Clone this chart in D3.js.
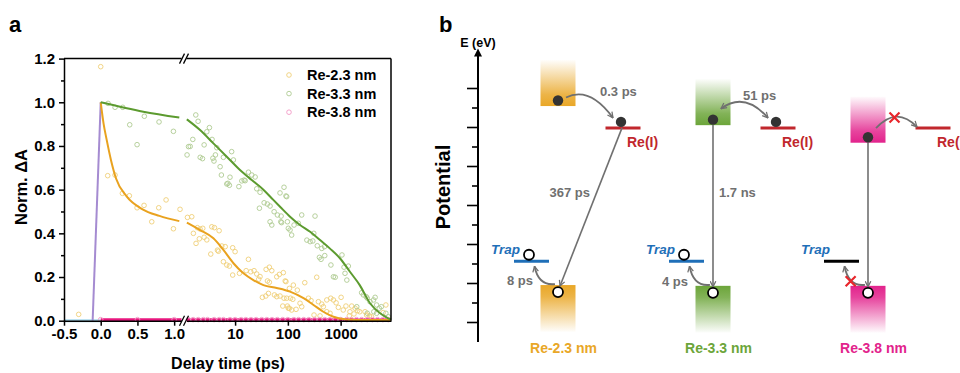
<!DOCTYPE html>
<html>
<head>
<meta charset="utf-8">
<script src="https://cdn.jsdelivr.net/npm/d3@7"></script>
<style>
body { margin: 0; background: #fff; }
svg { font-family: "Liberation Sans", Arial, sans-serif; font-weight: bold; }
.axis text { font-size: 15px; font-weight: bold; fill: #000; font-family: "Liberation Sans", Arial, sans-serif; }
.axis path, .axis line { stroke: #000; stroke-width: 1.5; }
</style>
</head>
<body>
<script>
// ---------- panel a data ----------
var seriesNames = ["Re-2.3 nm", "Re-3.3 nm", "Re-3.8 nm"];

var yTicks = [0, 0.2, 0.4, 0.6, 0.8, 1.0, 1.2];
var yMinor = [0.1, 0.3, 0.5, 0.7, 0.9, 1.1];
var xLinTicks = [-0.5, 0, 0.5, 1.0];
var xLogTicks = [10, 100, 1000];

// scatter, linear part (t in ps, norm dA)
var orangeLinPts = [[-0.3,0.029],[0,1.163],[0.095,0.664],[0.195,0.667],[0.295,0.583],[0.39,0.572],[0.495,0.517],[0.59,0.528],[0.695,0.453],[0.79,0.517],[0.89,0.553],[0.99,0.421],[1.08,0.51]];
var greenLinPts = [[0.10,0.995],[0.195,0.977],[0.30,0.977],[0.395,0.897],[0.495,0.806],[0.594,0.936],[0.794,0.91],[0.99,0.867]];
var pinkLinPts = [[0,0.005],[0.5,0.005],[1.0,0.005]];

// scatter, log part
var orangeLogPts = [[1.25,0.473],[1.51,0.476],[1.62,0.40],[1.93,0.426],[2.17,0.42],[2.44,0.423],[1.82,0.354],[2.1,0.375],[2.59,0.382],[2.91,0.37],[3.62,0.43],[4.06,0.426],[4.98,0.412],[3.46,0.305],[4.63,0.323],[4.83,0.318],[5.6,0.342],[6.5,0.339],[9.0,0.334],[10,0.316],[6.96,0.255],[7.8,0.25],[6.0,0.27],[9,0.209],[17.9,0.281],[12.1,0.217],[16.2,0.229],[19.8,0.224],[22.9,0.229],[25.7,0.214],[29.7,0.202],[28,0.19],[38.7,0.235],[44.6,0.245],[49.6,0.229],[41,0.182],[44.6,0.176],[61.5,0.201],[69,0.212],[32.9,0.107],[38.2,0.113],[42.8,0.125],[55.6,0.118],[61.5,0.11],[71,0.113],[84.5,0.103],[98,0.067],[107,0.057],[92,0.179],[82,0.22],[89,0.182],[107,0.148],[127,0.163],[151,0.14],[95,0.103],[112,0.103],[124,0.098],[80,0.067],[102,0.057],[118,0.049],[143,0.052],[170,0.08],[183,0.064],[209,0.174],[245,0.103],[275,0.092],[352,0.199],[379,0.087],[439,0.076],[470,0.064],[546,0.095],[650,0.103],[730,0.095],[820,0.082],[1020,0.107],[313,0.026],[407,0.022],[546,0.041],[630,0.034],[905,0.061],[1120,0.049],[1260,0.067],[1500,0.041],[1620,0.067],[1880,0.057],[2100,0.046],[2300,0.041],[1460,0.022],[1790,0.031],[2900,0.041],[3100,0.026],[3500,0.022],[3850,0.018],[6400,0.037],[7200,0.072]];
var greenLogPts = [[1.31,0.797],[1.23,0.759],[1.80,0.942],[1.99,0.913],[3.26,0.884],[2.91,0.865],[1.58,0.83],[1.41,0.798],[2.59,0.805],[2.18,0.748],[2.41,0.742],[3.66,0.83],[3.8,0.744],[3.98,0.731],[4.24,0.759],[4.5,0.792],[6.0,0.748],[5.2,0.705],[8.6,0.774],[9.3,0.736],[5.5,0.667],[8.0,0.657],[13.4,0.64],[14.8,0.644],[17.9,0.68],[20.7,0.667],[24,0.658],[7.3,0.629],[6.96,0.626],[7.8,0.62],[11.8,0.614],[15.5,0.641],[25.7,0.604],[29.7,0.588],[28.9,0.515],[35.5,0.54],[40.9,0.534],[46,0.525],[54.9,0.499],[63.4,0.484],[73.5,0.453],[46,0.453],[49.6,0.438],[71,0.585],[95,0.568],[98,0.453],[102,0.423],[84.5,0.611],[92,0.571],[74.5,0.479],[76,0.449],[110,0.415],[118,0.392],[131,0.438],[158,0.446],[183,0.484],[229,0.369],[264,0.362],[297,0.365],[327,0.479],[310,0.40],[361,0.343],[439,0.331],[494,0.339],[396,0.29],[425,0.281],[500,0.298],[654,0.255],[730,0.201],[790,0.199],[1060,0.301],[1160,0.245],[1400,0.25],[1210,0.217],[1310,0.186],[2500,0.128],[2700,0.118],[3050,0.11],[3200,0.103],[3600,0.087],[4200,0.095],[4500,0.107],[4800,0.072],[5400,0.057],[5900,0.064],[4250,0.041],[4800,0.034],[2020,0.064],[7200,0.034],[8000,0.018],[3200,0.034]];
var pinkLogPts = [[1.3,0.005],[1.6,0.005],[2,0.005],[2.5,0.005],[3,0.005],[4,0.005],[5,0.005],[6,0.005],[8,0.005],[10,0.005],[13,0.005],[16,0.005],[20,0.005],[25,0.005],[32,0.005],[40,0.005],[50,0.005],[63,0.005],[80,0.005],[100,0.005],[130,0.005],[160,0.005],[200,0.005],[250,0.005],[320,0.005],[400,0.005],[500,0.005],[630,0.005],[800,0.005],[1000,0.005],[1300,0.005],[1600,0.005],[2000,0.005],[2500,0.005],[3200,0.005],[4000,0.005],[5000,0.005],[6300,0.005],[8000,0.005]];

// fitted curves
var orangeFitLin = [[0,1.0],[0.04,0.9],[0.08,0.83],[0.14,0.735],[0.21,0.65],[0.35,0.57],[0.57,0.51],[0.8,0.48],[1.07,0.456]];
var orangeFitLog = [[1.22,0.449],[2.17,0.415],[3.88,0.377],[6.0,0.324],[9.3,0.263],[14.4,0.217],[22.2,0.186],[34.4,0.163],[61.5,0.15],[110,0.133],[198,0.103],[306,0.072],[470,0.041],[730,0.018],[1300,0.006],[3100,0.003],[9000,0.003]];
var greenFitLin = [[0,1.0],[0.58,0.957],[1.07,0.93]];
var greenFitLog = [[1.22,0.922],[2.17,0.873],[3.88,0.812],[6.96,0.751],[12.4,0.69],[20.7,0.644],[34.4,0.6],[53,0.553],[71,0.522],[110,0.476],[170,0.438],[264,0.407],[407,0.369],[630,0.33],[970,0.286],[1500,0.224],[2300,0.163],[3600,0.08],[5600,0.034],[8000,0.011],[9000,0.006]];
var pinkFitLin = [[0,0.004],[1.1,0.004]];
var pinkFitLog = [[1.2,0.004],[9000,0.004]];
var irfRise = [[-0.11,0],[0,1.0]];
var baseLine = [[-0.5,0.0],[0,0.0]];

// ---------- panel b data ----------
var groupNames = ["Re-2.3 nm", "Re-3.3 nm", "Re-3.8 nm"];
var groupColors = ["#E9A727", "#6CA53A", "#E2238C"];
var cbEdge = [5.55, 5.06, 4.61];     // conduction band edge (arb. potential units)
var vbEdge = [0.96, 0.94, 0.94];     // valence band edge
var reLevel = [4.99, 4.99, 4.99];    // Re(I) level
var trapLevel = [1.57, 1.57, 1.57];  // trap level
var transferTime = ["0.3 ps", "51 ps", ""];
var recombTime = ["367 ps", "1.7 ns", ""];
var trapTime = ["8 ps", "4 ps", ""];
var blocked = [false, false, true];
var eMajor = [0, 1, 2, 3, 4, 5, 6];
var eMinor = [0.5, 1.5, 2.5, 3.5, 4.5, 5.5];

var svg = d3.select("body").append("svg")
    .attr("width", 960)
    .attr("height", 373);

// ================= panel a =================
var xLin = d3.scaleLinear().domain([-0.5, 1.1]).range([64, 181.5]);
var xLog = d3.scaleLog().domain([1.2, 9000]).range([186.5, 391]);
var y = d3.scaleLinear().domain([0, 1.2]).range([320.7, 58.6]);

var gA = svg.append("g");

var lineLin = d3.line().x(function(d) { return xLin(d[0]); }).y(function(d) { return y(d[1]); }).curve(d3.curveMonotoneX);
var lineLog = d3.line().x(function(d) { return xLog(d[0]); }).y(function(d) { return y(d[1]); }).curve(d3.curveMonotoneX);
var straight = d3.line().x(function(d) { return xLin(d[0]); }).y(function(d) { return y(d[1]); });

// scatter points
function dots(data, sx, color) {
    gA.append("g").selectAll("circle")
        .data(data)
        .enter().append("circle")
        .attr("cx", function(d) { return sx(d[0]); })
        .attr("cy", function(d) { return y(d[1]); })
        .attr("r", 2.3)
        .attr("fill", "none")
        .attr("stroke", color)
        .attr("stroke-width", 0.9);
}
dots(orangeLinPts, xLin, "#EFCF78");
dots(orangeLogPts, xLog, "#EFCF78");
dots(greenLinPts, xLin, "#AFCB92");
dots(greenLogPts, xLog, "#AFCB92");

// fits
gA.append("path").attr("d", straight(baseLine)).attr("stroke", "#A9D8EC").attr("stroke-width", 3).attr("fill", "none");
gA.append("path").attr("d", straight(irfRise)).attr("stroke", "#A58BD1").attr("stroke-width", 2).attr("fill", "none");
gA.append("path").attr("d", straight(pinkFitLin)).attr("stroke", "#E8177F").attr("stroke-width", 3).attr("fill", "none");
gA.append("path").attr("d", lineLog(pinkFitLog)).attr("stroke", "#E8177F").attr("stroke-width", 3).attr("fill", "none");
dots(pinkLinPts, xLin, "#F39AC6");
dots(pinkLogPts, xLog, "#F39AC6");
[[orangeFitLin, orangeFitLog, "#E9A21F"], [greenFitLin, greenFitLog, "#5C9B2F"]].forEach(function(f) {
    gA.append("path").attr("d", lineLin(f[0])).attr("stroke", f[2]).attr("stroke-width", 2).attr("fill", "none");
    gA.append("path").attr("d", lineLog(f[1])).attr("stroke", f[2]).attr("stroke-width", 2).attr("fill", "none");
});

// axes
gA.append("g").attr("class", "axis")
    .attr("transform", "translate(64,0)")
    .call(d3.axisLeft(y).tickValues(yTicks).tickFormat(function(d) { return d.toFixed(1); })
        .tickSize(5).tickSizeOuter(0).tickPadding(4));
gA.append("g").attr("class", "axis")
    .attr("transform", "translate(64,0)")
    .call(d3.axisLeft(y).tickValues(yMinor).tickFormat("").tickSize(3).tickSizeOuter(0))
    .select(".domain").remove();
gA.append("g").attr("class", "axis")
    .attr("transform", "translate(0," + y(0) + ")")
    .call(d3.axisBottom(xLin).tickValues(xLinTicks).tickFormat(function(d) { return d.toFixed(1); })
        .tickSize(5).tickSizeOuter(0).tickPadding(3));
gA.append("g").attr("class", "axis")
    .attr("transform", "translate(0," + y(0) + ")")
    .call(d3.axisBottom(xLog).tickValues(xLogTicks).tickFormat(d3.format("d"))
        .tickSize(5).tickSizeOuter(0).tickPadding(3));

// top and right frame
gA.append("line").attr("x1", xLin.range()[0]).attr("x2", xLin.range()[1]).attr("y1", y(1.2)).attr("y2", y(1.2)).attr("stroke", "#000").attr("stroke-width", 1.5);
gA.append("line").attr("x1", xLog.range()[0]).attr("x2", xLog.range()[1]).attr("y1", y(1.2)).attr("y2", y(1.2)).attr("stroke", "#000").attr("stroke-width", 1.5);
gA.append("line").attr("x1", xLog.range()[1]).attr("x2", xLog.range()[1]).attr("y1", y(1.2)).attr("y2", y(0)).attr("stroke", "#000").attr("stroke-width", 1.5);

// axis break marks
[y(0), y(1.2)].forEach(function(yy) {
    [xLin.range()[1] + 0.5, xLog.range()[0] - 0.5].forEach(function(xx) {
        gA.append("line")
            .attr("x1", xx - 2.5).attr("y1", yy + 5)
            .attr("x2", xx + 2.5).attr("y2", yy - 5)
            .attr("stroke", "#000").attr("stroke-width", 1.3);
    });
});

// legend
var legColors = ["#EFCF78", "#AFCB92", "#F39AC6"];
var leg = gA.append("g").selectAll("g")
    .data(seriesNames)
    .enter().append("g")
    .attr("transform", function(d, i) { return "translate(289," + (75 + i * 18.6) + ")"; });
leg.append("circle").attr("r", 2.3).attr("fill", "none").attr("stroke-width", 0.9)
    .attr("stroke", function(d, i) { return legColors[i]; });
leg.append("text").attr("x", 18).attr("y", 5).attr("font-size", 14.5).text(function(d) { return d; });

gA.append("text").attr("x", 228).attr("y", 369).attr("text-anchor", "middle").attr("font-size", 16).text("Delay time (ps)");
gA.append("text").attr("transform", "translate(27,187) rotate(-90)").attr("text-anchor", "middle").attr("font-size", 16.5).text("Norm. \u0394A");
svg.append("text").attr("x", 9).attr("y", 32).attr("font-size", 22).text("a");
svg.append("text").attr("x", 439).attr("y", 32).attr("font-size", 22).text("b");

// ================= panel b =================
var yE = d3.scaleLinear().domain([-0.5, 7]).range([342, 49.5]);
var xG = d3.scalePoint().domain(groupNames).range([558, 868]);
var axX = 478;
var gray = "#707070";

var defs = svg.append("defs");
groupColors.forEach(function(c, i) {
    var up = defs.append("linearGradient").attr("id", "up" + i).attr("x1", 0).attr("y1", 1).attr("x2", 0).attr("y2", 0);
    up.append("stop").attr("offset", "0%").attr("stop-color", c).attr("stop-opacity", 1);
    up.append("stop").attr("offset", "25%").attr("stop-color", c).attr("stop-opacity", 0.85);
    up.append("stop").attr("offset", "100%").attr("stop-color", c).attr("stop-opacity", 0.02);
    var dn = defs.append("linearGradient").attr("id", "dn" + i).attr("x1", 0).attr("y1", 0).attr("x2", 0).attr("y2", 1);
    dn.append("stop").attr("offset", "0%").attr("stop-color", c).attr("stop-opacity", 1);
    dn.append("stop").attr("offset", "25%").attr("stop-color", c).attr("stop-opacity", 0.85);
    dn.append("stop").attr("offset", "100%").attr("stop-color", c).attr("stop-opacity", 0.02);
});
defs.append("marker").attr("id", "arr").attr("viewBox", "0 0 10 10").attr("refX", 9).attr("refY", 5)
    .attr("markerWidth", 7).attr("markerHeight", 7).attr("markerUnits", "userSpaceOnUse").attr("orient", "auto-start-reverse")
    .append("path").attr("d", "M1,1 L9,5 L1,9").attr("fill", "none").attr("stroke", gray).attr("stroke-width", 1.8);

var gB = svg.append("g");

// potential axis
gB.append("line").attr("x1", axX).attr("x2", axX).attr("y1", yE(-0.5)).attr("y2", yE(7) + 4).attr("stroke", "#000").attr("stroke-width", 2);
gB.append("path").attr("d", "M" + (axX - 4) + "," + (yE(7) + 7) + " L" + axX + "," + (yE(7) - 1) + " L" + (axX + 4) + "," + (yE(7) + 7) + " Z").attr("fill", "#000");
gB.selectAll(".maj").data(eMajor).enter().append("line")
    .attr("x1", axX - 11).attr("x2", axX).attr("y1", function(d) { return yE(d); }).attr("y2", function(d) { return yE(d); })
    .attr("stroke", "#000").attr("stroke-width", 1.6);
gB.selectAll(".min").data(eMinor).enter().append("line")
    .attr("x1", axX - 6).attr("x2", axX).attr("y1", function(d) { return yE(d); }).attr("y2", function(d) { return yE(d); })
    .attr("stroke", "#000").attr("stroke-width", 1.6);
gB.append("text").attr("x", axX).attr("y", 47).attr("text-anchor", "middle").attr("font-size", 12.5).text("E (eV)");
gB.append("text").attr("transform", "translate(450,187) rotate(-90)").attr("text-anchor", "middle").attr("font-size", 20).text("Potential");

function xMark(cx, cy) {
    gB.append("path").attr("d", "M" + (cx - 5) + "," + (cy - 5) + " L" + (cx + 5) + "," + (cy + 5) + " M" + (cx + 5) + "," + (cy - 5) + " L" + (cx - 5) + "," + (cy + 5))
        .attr("stroke", "#E8262B").attr("stroke-width", 2.2);
}

groupNames.forEach(function(name, i) {
    var cx = xG(name);
    var cbY = yE(cbEdge[i]), vbY = yE(vbEdge[i]);
    var reY = yE(reLevel[i]), trY = yE(trapLevel[i]);
    var bw = 35;

    // bands
    gB.append("rect").attr("x", cx - bw / 2).attr("width", bw)
        .attr("y", yE(cbEdge[i] + 1.18)).attr("height", cbY - yE(cbEdge[i] + 1.18))
        .attr("fill", "url(#up" + i + ")");
    gB.append("rect").attr("x", cx - bw / 2).attr("width", bw)
        .attr("y", vbY).attr("height", yE(vbEdge[i] - 1.2) - vbY)
        .attr("fill", "url(#dn" + i + ")");

    // Re(I) and trap levels
    var reX = cx + 65, trX = cx - 26.5;
    gB.append("line").attr("x1", reX - 17.5).attr("x2", reX + 17.5).attr("y1", reY).attr("y2", reY).attr("stroke", "#C1272D").attr("stroke-width", 3);
    gB.append("text").attr("x", cx + 69).attr("y", reY + 19).attr("font-size", 14).attr("fill", "#C1272D").text("Re(I)");
    gB.append("line").attr("x1", trX - 17.5).attr("x2", trX + 17.5).attr("y1", trY).attr("y2", trY)
        .attr("stroke", blocked[i] ? "#000" : "#1F6FB8").attr("stroke-width", 3);
    gB.append("text").attr("x", cx - 67).attr("y", trY - 7.5).attr("font-size", 13.5).attr("font-style", "italic").attr("fill", "#1F6FB8").text("Trap");

    var eY = cbY - 5.5, hY = vbY + 7;

    // electron transfer to Re(I)
    var x1 = cx + 8, y1 = eY - (i === 1 ? 11 : 3), x2 = cx + (blocked[i] ? 49 : 55), y2 = reY - (blocked[i] ? 1 : 10);
    if (blocked[i]) y1 = eY - 9;
    var mx = (x1 + x2) / 2, my = (y1 + y2) / 2 - 22;
    var tr = gB.append("path").attr("d", "M" + x1 + "," + y1 + " Q" + mx + "," + my + " " + x2 + "," + y2)
        .attr("fill", "none").attr("stroke", gray).attr("stroke-width", 1.8).attr("marker-end", "url(#arr)");
    if (i === 1) tr.attr("marker-start", "url(#arr)");
    if (blocked[i]) xMark((x1 + 2 * mx + x2) / 4 - 2, (y1 + 2 * my + y2) / 4 + 1);
    if (transferTime[i]) {
        gB.append("text").attr("x", i === 0 ? cx + 42 : cx + 30).attr("y", i === 0 ? 96 : 100)
            .attr("font-size", 13).attr("fill", gray).text(transferTime[i]);
    }

    // recombination
    var rx1 = i === 0 ? reX - 1 : cx, ry1 = i === 0 ? reY : eY + 5;
    var rx2 = i === 0 ? cx + 2 : cx, ry2 = hY - 6;
    gB.append("line").attr("x1", rx1).attr("y1", ry1).attr("x2", rx2).attr("y2", ry2)
        .attr("stroke", gray).attr("stroke-width", 1.6).attr("marker-end", "url(#arr)");
    if (recombTime[i]) {
        gB.append("text").attr("x", i === 0 ? 590 : cx + 6).attr("y", 197)
            .attr("text-anchor", i === 0 ? "end" : "start")
            .attr("font-size", 13).attr("fill", gray).text(recombTime[i]);
    }

    // hole trapping
    var tx1 = cx - 3, ty1 = hY - 8, tx2 = trX + 3, ty2 = trY + 5;
    var cxq = tx2 + 4, cyq = ty1 + 2;
    gB.append("path").attr("d", "M" + tx1 + "," + ty1 + " Q" + cxq + "," + cyq + " " + tx2 + "," + ty2)
        .attr("fill", "none").attr("stroke", gray).attr("stroke-width", 1.8).attr("marker-end", "url(#arr)");
    if (blocked[i]) xMark((tx1 + 2 * cxq + tx2) / 4 - 1, (ty1 + 2 * cyq + ty2) / 4);
    if (trapTime[i]) {
        gB.append("text").attr("x", cx - 25).attr("y", vbY).attr("text-anchor", "end")
            .attr("font-size", 13).attr("fill", gray).text(trapTime[i]);
    }

    // carriers
    gB.append("circle").attr("cx", cx).attr("cy", eY).attr("r", 5.2).attr("fill", "#333");
    if (!blocked[i]) {
        gB.append("circle").attr("cx", reX - 2).attr("cy", reY - 6).attr("r", 5.2).attr("fill", "#333");
        gB.append("circle").attr("cx", trX - 2.5).attr("cy", trY - 6.5).attr("r", 5).attr("fill", "#fff").attr("stroke", "#000").attr("stroke-width", 1.8);
    }
    gB.append("circle").attr("cx", cx).attr("cy", hY).attr("r", 5).attr("fill", "#fff").attr("stroke", "#000").attr("stroke-width", 1.8);

    gB.append("text").attr("x", cx + 5.5).attr("y", 353).attr("text-anchor", "middle")
        .attr("font-size", 14).attr("fill", groupColors[i]).text(name);
});
</script>
</body>
</html>
